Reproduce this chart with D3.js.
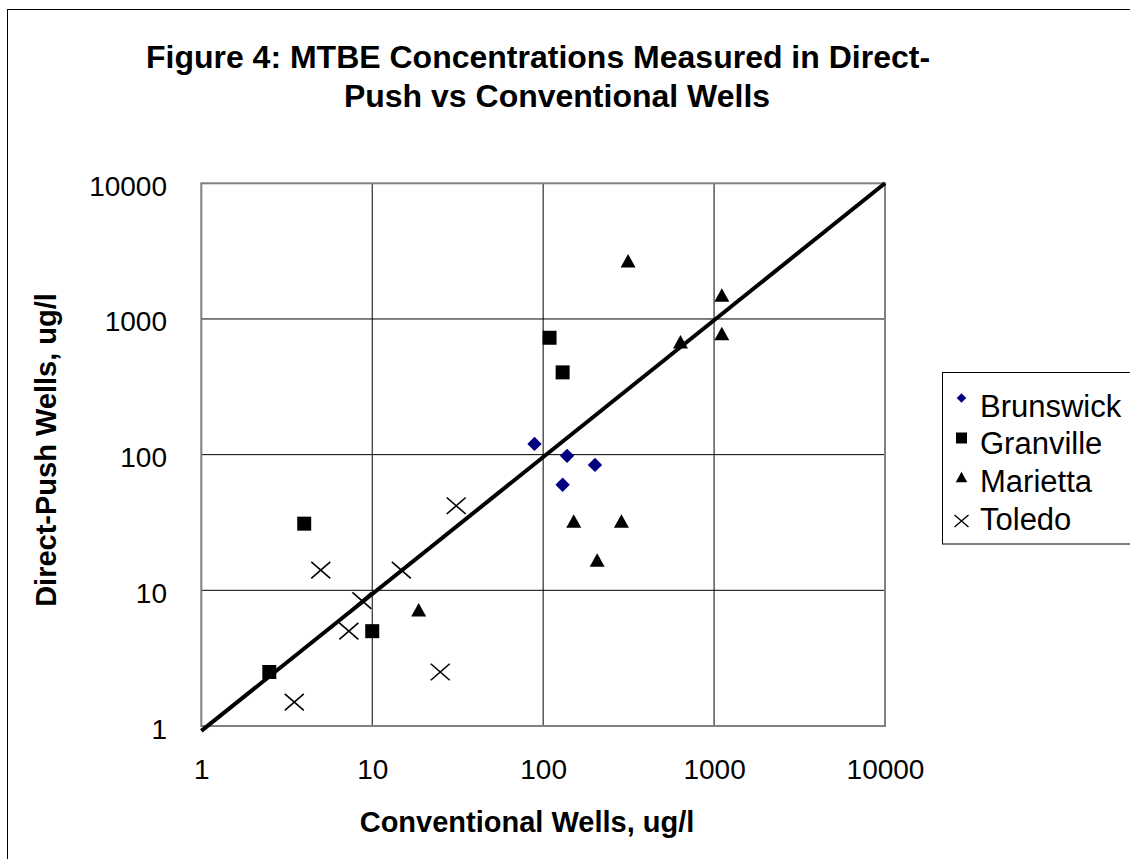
<!DOCTYPE html>
<html>
<head>
<meta charset="utf-8">
<script src="https://cdn.jsdelivr.net/npm/d3@7"></script>
<style>
  html, body { margin: 0; padding: 0; background: #fff; }
  svg { display: block; font-family: "Liberation Sans", Arial, sans-serif; }
</style>
</head>
<body>
<svg id="chart" width="1130" height="859"></svg>
<script>
// ---- data ----
const titleLines = ["Figure 4: MTBE Concentrations Measured in Direct-", "Push vs Conventional Wells"];
const xTitle = "Conventional Wells, ug/l";
const yTitle = "Direct-Push Wells, ug/l";
const tickValues = [1, 10, 100, 1000, 10000];
const seriesNames = ["Brunswick", "Granville", "Marietta", "Toledo"];

const brunswickX = [89, 138, 201, 130];
const brunswickY = [120, 98, 84, 60];
const granvilleX = [109, 130, 4, 10, 2.5];
const granvilleY = [727, 404, 31, 5, 2.5];
const mariettaX = [314, 1110, 1110, 636, 151, 207, 287, 18.7];
const mariettaY = [2685, 1500, 783, 679, 32.4, 16.7, 32.4, 7.2];
const toledoX = [31, 5, 14.8, 8.7, 7.3, 25, 3.5];
const toledoY = [42, 14.1, 14.1, 8.4, 5, 2.5, 1.5];
const fitX = [1, 10000];
const fitY = [0.92, 10000];

// ---- layout ----
const svg = d3.select("#chart");
const plot = { left: 201.3, right: 885, top: 183.3, bottom: 726 };
const x = d3.scaleLog().domain([1, 10000]).range([plot.left, plot.right]);
const y = d3.scaleLog().domain([1, 10000]).range([plot.bottom, plot.top]);

// outer chart border (only top/left visible in frame)
svg.append("rect").attr("x", 7.5).attr("y", 9.5).attr("width", 1300).attr("height", 1000)
  .attr("fill", "none").attr("stroke", "#000").attr("stroke-width", 1);

// title
const title = svg.append("g").attr("font-weight", "bold").attr("font-size", 32).attr("text-anchor", "middle").attr("fill", "#000");
title.append("text").attr("x", 538).attr("y", 68).text(titleLines[0]);
title.append("text").attr("x", 557).attr("y", 107).text(titleLines[1]);

// gridlines
const grid = svg.append("g");
grid.selectAll("line.v").data(tickValues.slice(1, -1)).join("line")
  .attr("x1", d => x(d)).attr("x2", d => x(d)).attr("y1", plot.top).attr("y2", plot.bottom)
  .attr("stroke", "#000").attr("stroke-width", 1);
grid.selectAll("line.h").data(tickValues.slice(1, -1)).join("line").attr("class", "h")
  .attr("y1", d => y(d)).attr("y2", d => y(d)).attr("x1", plot.left).attr("x2", plot.right)
  .attr("stroke", "#000").attr("stroke-width", 1);

// plot border
svg.append("rect").attr("x", plot.left).attr("y", plot.top)
  .attr("width", plot.right - plot.left).attr("height", plot.bottom - plot.top)
  .attr("fill", "none").attr("stroke", "#808080").attr("stroke-width", 2);

// axes (labels only, via d3 axes)
const xAxis = d3.axisBottom(x).tickValues(tickValues).tickFormat(d3.format("d")).tickSize(0).tickPadding(0);
const gx = svg.append("g").attr("transform", `translate(0,${plot.bottom})`).call(xAxis);
gx.select(".domain").remove();
gx.selectAll("text").attr("font-size", 28).attr("font-family", "'Liberation Sans', Arial, sans-serif")
  .attr("fill", "#000").attr("dy", null).attr("y", 53);

const yAxis = d3.axisLeft(y).tickValues(tickValues).tickFormat(d3.format("d")).tickSize(0).tickPadding(0);
const gy = svg.append("g").attr("transform", `translate(167,0)`).call(yAxis);
gy.select(".domain").remove();
gy.selectAll("text").attr("font-size", 28).attr("font-family", "'Liberation Sans', Arial, sans-serif")
  .attr("fill", "#000").attr("dy", null).attr("y", 12).attr("x", 0);

// axis titles
svg.append("text").attr("x", 527).attr("y", 832).attr("text-anchor", "middle")
  .attr("font-weight", "bold").attr("font-size", 29).text(xTitle);
svg.append("text").attr("transform", "translate(56,450) rotate(-90)").attr("text-anchor", "middle")
  .attr("font-weight", "bold").attr("font-size", 29).text(yTitle);

// fit line
svg.append("line").attr("x1", x(fitX[0])).attr("y1", y(fitY[0])).attr("x2", x(fitX[1])).attr("y2", y(fitY[1]))
  .attr("stroke", "#000").attr("stroke-width", 4);

// marker shapes
function diamond(s) { return `M0,${-s}L${s},0L0,${s}L${-s},0Z`; }
function square(s) { return `M${-s},${-s}H${s}V${s}H${-s}Z`; }
function triangle(w, h) { return `M0,${-h/2}L${w/2},${h/2}L${-w/2},${h/2}Z`; }
function cross(w, h) { return `M${-w/2},${-h/2}L${w/2},${h/2}M${w/2},${-h/2}L${-w/2},${h/2}`; }

function pts(xs, ys) { return xs.map((v, i) => [v, ys[i]]); }
const pg = svg.append("g");
pg.selectAll("path.b").data(pts(brunswickX, brunswickY)).join("path").attr("class", "b")
  .attr("transform", d => `translate(${x(d[0])},${y(d[1])})`).attr("d", diamond(7.2)).attr("fill", "#000080");
pg.selectAll("path.g").data(pts(granvilleX, granvilleY)).join("path").attr("class", "g")
  .attr("transform", d => `translate(${x(d[0])},${y(d[1])})`).attr("d", square(7)).attr("fill", "#000");
pg.selectAll("path.m").data(pts(mariettaX, mariettaY)).join("path").attr("class", "m")
  .attr("transform", d => `translate(${x(d[0])},${y(d[1])})`).attr("d", triangle(15, 13.5)).attr("fill", "#000");
pg.selectAll("path.t").data(pts(toledoX, toledoY)).join("path").attr("class", "t")
  .attr("transform", d => `translate(${x(d[0])},${y(d[1])})`).attr("d", cross(19, 16.5))
  .attr("fill", "none").attr("stroke", "#000").attr("stroke-width", 1.6);

// legend
const lg = svg.append("g");
lg.append("rect").attr("x", 942.5).attr("y", 372.5).attr("width", 300).attr("height", 171.5)
  .attr("fill", "#fff").attr("stroke", "#000").attr("stroke-width", 1);
const legendShapes = [
  { d: diamond(4.8), fill: "#000080", stroke: "none" },
  { d: square(5.5), fill: "#000", stroke: "none" },
  { d: triangle(11.5, 10.5), fill: "#000", stroke: "none" },
  { d: cross(14, 12), fill: "none", stroke: "#000" }
];
const legendY = [398, 438, 477, 521];
const legendBase = [416.5, 454, 492, 529.5];
seriesNames.forEach((name, i) => {
  lg.append("path").attr("transform", `translate(961.5,${legendY[i]})`).attr("d", legendShapes[i].d)
    .attr("fill", legendShapes[i].fill).attr("stroke", legendShapes[i].stroke).attr("stroke-width", 1.4);
  lg.append("text").attr("x", 980).attr("y", legendBase[i]).attr("font-size", 31).attr("fill", "#000").text(name);
});
</script>
</body>
</html>
